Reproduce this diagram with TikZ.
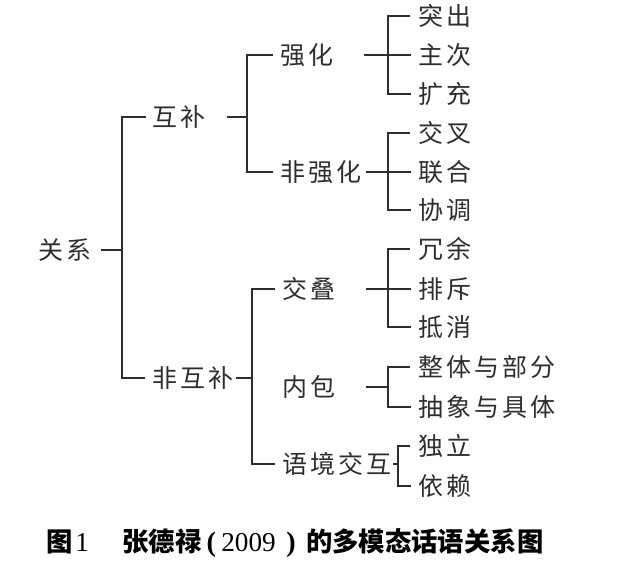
\documentclass[tikz,border=0pt]{standalone}
\usepackage{fontspec}
\setmainfont{Liberation Serif}
\newfontfamily\cjk{Noto Sans CJK SC}[LetterSpace=12]
\newfontfamily\cjkcap{Noto Sans CJK SC}
\usepackage{tikz}
\usetikzlibrary{calc}
\definecolor{inkgray}{HTML}{2E2E2E}
\tikzset{
    tree_node/.style={
        anchor=west, inner sep=0pt, text=inkgray, font=\cjk\fontsize{14.2}{16}\selectfont
    },
    pad_node/.style={
        tree_node, text width=#1, align=left
    },
    link_line/.style={
        line width=1.35pt, draw=inkgray
    },
    to_leaf/.style={
        link_line, shorten >=0.14cm
    },
    caption_text/.style={
        anchor=west, inner sep=0pt, text=black, font=\cjkcap\bfseries\fontsize{15}{17}\selectfont
    }
}
\newcommand{\capnum}[1]{{\mdseries\rmfamily\fontsize{15.5}{17}\selectfont #1}}
\newcommand{\capparen}[1]{{\bfseries\rmfamily\fontsize{16}{17}\selectfont #1}}

\begin{document}
\begin{tikzpicture}[x=0.02cm, y=-0.02cm]
    \useasboundingbox (0,0) rectangle (619,570);

    % 第一层
    \node[pad_node=1.24cm] (guanxi) at (38, 250) {关系};
    \node[pad_node=1.48cm] (hubu) at (152, 117) {互补};
    \node[tree_node] (feihubu) at (152, 378) {非互补};

    % 第二层
    \node[pad_node=1.66cm] (qianghua) at (280, 55) {强化};
    \node[tree_node] (feiqianghua) at (280, 172) {非强化};
    \node[pad_node=1.66cm] (jiaodie) at (282, 289) {交叠};
    \node[pad_node=1.66cm] (neibao) at (282, 387) {内包};
    \node[tree_node] (yujing) at (282, 464) {语境交互};

    % 第三层
    \node[tree_node] (tuchu) at (418, 16) {突出};
    \node[tree_node] (zhuci) at (418, 55) {主次};
    \node[tree_node] (kuochong) at (418, 94) {扩充};
    \node[tree_node] (jiaocha) at (418, 133) {交叉};
    \node[tree_node] (lianhe) at (418, 172) {联合};
    \node[tree_node] (xietiao) at (418, 210) {协调};
    \node[tree_node] (rongyu) at (418, 249) {冗余};
    \node[tree_node] (paichi) at (418, 289) {排斥};
    \node[tree_node] (dixiao) at (418, 327) {抵消};
    \node[tree_node] (zhengti) at (418, 367) {整体与部分};
    \node[tree_node] (chouxiang) at (418, 407) {抽象与具体};
    \node[tree_node] (duli) at (418, 446) {独立};
    \node[tree_node] (yilai) at (418, 486) {依赖};

    % 分叉点
    \coordinate (j_guanxi) at (122, 250);
    \coordinate (j_hubu) at (247, 117);
    \coordinate (j_feihubu) at (252, 378);
    \coordinate (j_qianghua) at (388, 55);
    \coordinate (j_feiqianghua) at (388, 172);
    \coordinate (j_jiaodie) at (388, 289);
    \coordinate (j_neibao) at (388, 387);
    \coordinate (j_yujing) at (398, 464);

    % 连线
    \draw[link_line] (guanxi.east) -- (j_guanxi);
    \draw[to_leaf, shorten <=0.12cm] (hubu.west) -| (j_guanxi) |- (feihubu.west);

    \draw[link_line] (hubu.east) -- (j_hubu);
    \draw[to_leaf, shorten <=0.14cm] (qianghua.west) -| (j_hubu) |- (feiqianghua.west);

    \draw[link_line, shorten <=0.04cm] (feihubu.east) -- (j_feihubu);
    \draw[to_leaf, shorten <=0.14cm] (jiaodie.west) -| (j_feihubu) |- (yujing.west);

    \draw[to_leaf] (qianghua.east) -- (zhuci.west);
    \draw[to_leaf, shorten <=0.16cm] (tuchu.west) -| (j_qianghua) |- (kuochong.west);

    \draw[to_leaf, shorten <=0.08cm] (feiqianghua.east) -- (lianhe.west);
    \draw[to_leaf, shorten <=0.16cm] (jiaocha.west) -| (j_feiqianghua) |- (xietiao.west);

    \draw[to_leaf] (jiaodie.east) -- (paichi.west);
    \draw[to_leaf, shorten <=0.16cm] (rongyu.west) -| (j_jiaodie) |- (dixiao.west);

    \draw[link_line] (neibao.east) -- (j_neibao);
    \draw[to_leaf, shorten <=0.16cm] (zhengti.west) -| (j_neibao) |- (chouxiang.west);

    \draw[link_line, shorten <=0.04cm] (yujing.east) -- (j_yujing);
    \draw[to_leaf, shorten <=0.16cm] (duli.west) -| (j_yujing) |- (yilai.west);

    % 图题
    \node[caption_text] (caption) at (46, 543) {图\hspace{1.5pt}\capnum{1}\hspace{19pt}张德禄\hspace{3pt}\capparen{(}\hspace{3pt}\capnum{2009}\hspace{6pt}\capparen{)}\hspace{6pt}的多模态话语关系图};
\end{tikzpicture}
\end{document}
